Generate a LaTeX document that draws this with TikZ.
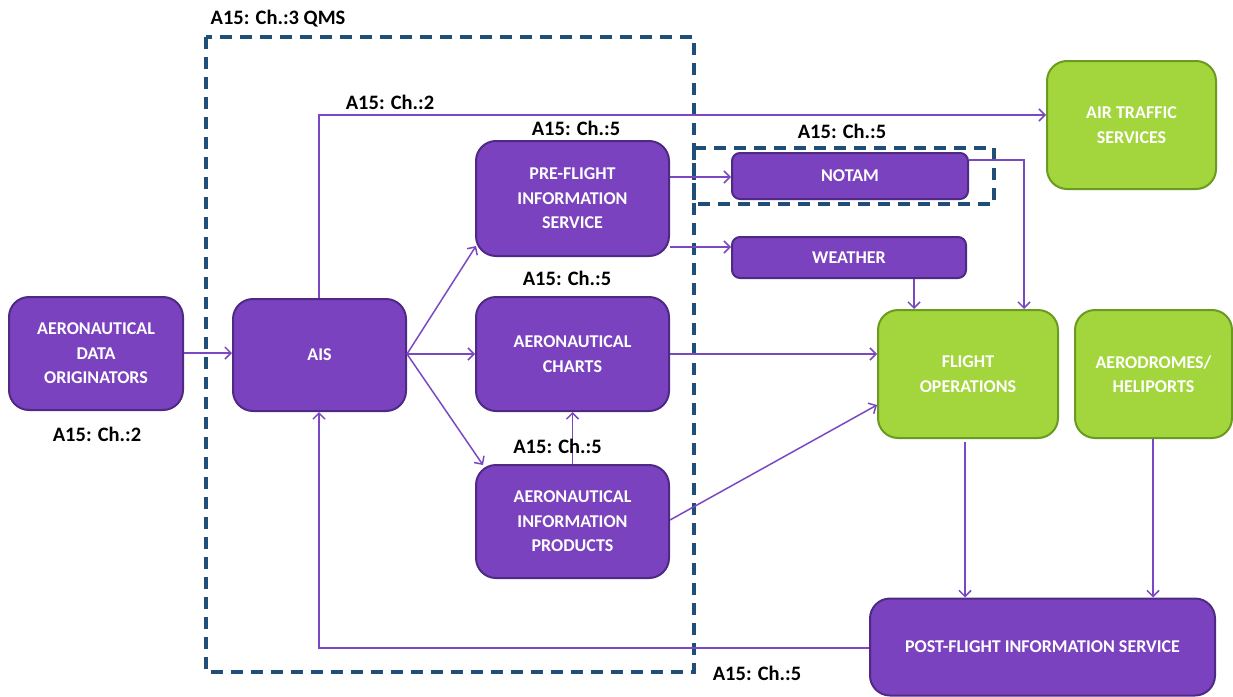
\documentclass[tikz,border=0pt]{standalone}
\usepackage{fontspec}
\setmainfont{Carlito}
\usetikzlibrary{arrows.meta}
\definecolor{pfill}{HTML}{7B42BF}
\definecolor{pdraw}{HTML}{4E2A84}
\definecolor{gfill}{HTML}{A3D63C}
\definecolor{gdraw}{HTML}{6A9A1F}
\definecolor{dblue}{HTML}{1F4E79}
\definecolor{conn}{HTML}{7B48C4}
\tikzset{
  pbox/.style={draw=pdraw, fill=pfill, line width=2pt, rounded corners=20pt, text=white,
    font=\fontsize{18}{24.5}\selectfont\bfseries, align=center, inner sep=0pt},
  gbox/.style={pbox, draw=gdraw, fill=gfill},
  sbox/.style={pbox, rounded corners=8pt},
  lbl/.style={font=\fontsize{20.5}{24}\selectfont\bfseries, text=black, inner sep=0pt},
  dashbox/.style={draw=dblue, line width=3.2pt, dash pattern=on 12pt off 8pt},
  conn/.style={draw=conn, line width=1.5pt, -{Straight Barb[length=6pt,width=12pt,line width=1.5pt]}}
}
\begin{document}
\begin{tikzpicture}[x=1pt,y=-1pt]
\useasboundingbox (0,0) rectangle (1233,696);
% dashed boxes
\draw[dashbox] (206,37) rectangle (694,672);
\draw[dashbox] (694,148) rectangle (994,204);
% nodes
\node[pbox, minimum width=174, minimum height=113] (ado) at (96,353.5) {AERONAUTICAL\\DATA\\ORIGINATORS};
\node[pbox, minimum width=173, minimum height=112] (ais) at (319.5,355) {AIS};
\node[pbox, minimum width=193, minimum height=115] (pfis) at (572.5,198.5) {PRE-FLIGHT\\INFORMATION\\SERVICE};
\node[pbox, minimum width=193, minimum height=114] (charts) at (572.5,354) {AERONAUTICAL\\CHARTS};
\node[pbox, minimum width=193, minimum height=113] (aip) at (572.5,521.5) {AERONAUTICAL\\INFORMATION\\PRODUCTS};
\node[sbox, minimum width=236, minimum height=46] (notam) at (850,176) {NOTAM};
\node[sbox, minimum width=234, minimum height=41] (weather) at (849,257.5) {WEATHER};
\node[gbox, minimum width=169, minimum height=128] (ats) at (1131.5,125) {AIR TRAFFIC\\SERVICES};
\node[gbox, minimum width=180, minimum height=128] (fo) at (968,374) {FLIGHT\\OPERATIONS};
\node[gbox, minimum width=157, minimum height=128] (adh) at (1153.5,374) {AERODROMES/\\HELIPORTS};
\node[pbox, minimum width=345, minimum height=97] (post) at (1042.5,647) {POST-FLIGHT INFORMATION SERVICE};
% labels
\node[lbl] (l1) at (278,19) {A15: Ch.:3 QMS};
\node[lbl] (l2) at (390,102) {A15: Ch.:2};
\node[lbl] (l3) at (576,128) {A15: Ch.:5};
\node[lbl] (l4) at (567,278) {A15: Ch.:5};
\node[lbl] (l5) at (842,131) {A15: Ch.:5};
\node[lbl] (l6) at (97,434) {A15: Ch.:2};
\node[lbl] (l7) at (757,673) {A15: Ch.:5};
% connectors
\draw[conn] (ado.east |- 0,353) -- (ais.west |- 0,353);
\draw[conn] (ais.north -| 319,0) |- (ats.west |- 0,115);
\draw[conn] (ais.east |- 0,354) -- (476,246);
\draw[conn] (ais.east |- 0,354) -- (charts.west);
\draw[conn] (ais.east |- 0,354) -- (483,465);
\draw[conn] (aip.north) -- (charts.south);
\node[lbl] (l8) at (557.5,446) {A15: Ch.:5};
\draw[conn] (pfis.east |- 0,177) -- (notam.west |- 0,177);
\draw[conn] (pfis.east |- 0,247) -- (weather.west |- 0,247);
\draw[conn] (notam.east |- 0,160) -| (fo.north -| 1024,0);
\draw[conn] (weather.south -| 914,0) -- (fo.north -| 914,0);
\draw[conn] (charts.east) -- (charts.east -| fo.west);
\draw[conn] (aip.east |- 0,520) -- (fo.west |- 0,405);
\draw[conn] (965,442) -- (post.north -| 965,0);
\draw[conn] (adh.south -| 1153,0) -- (post.north -| 1153,0);
\draw[conn] (post.west |- 0,648) -| (ais.south -| 319,0);
\end{tikzpicture}
\end{document}
